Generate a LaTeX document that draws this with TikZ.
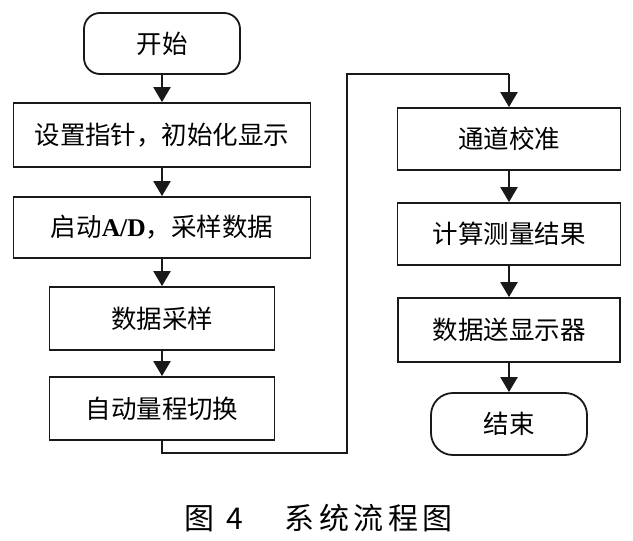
\documentclass[tikz,border=0pt]{standalone}
\usepackage{fontspec}
\setmainfont{Noto Sans CJK SC}
\newfontfamily\latinserif{Liberation Serif}
\usetikzlibrary{arrows.meta,positioning}
\tikzset{
  proc/.style={draw=black!90, line width=1.8pt, minimum height=62pt, inner sep=0pt, font=\fontsize{25.5}{29}\selectfont, text=black},
  term/.style={proc, rounded corners=16pt},
  flow/.style={draw=black!90, line width=2.2pt, -{Triangle[width=17pt,length=15pt]}},
  wire/.style={draw=black!90, line width=2.2pt}
}
\begin{document}
\begin{tikzpicture}[x=1pt,y=-1pt]
\useasboundingbox[fill=white] (0,0) rectangle (633,541);
\node[term, minimum width=156pt, minimum height=61pt] (start) at (162,43.5) {开始};
\node[proc, minimum width=297pt, minimum height=64pt] (b1) at (162,135) {设置指针，初始化显示};
\node[proc, minimum width=297pt, minimum height=61pt] (b2) at (162,227.5) {启动{\latinserif\bfseries A/D}，采样数据};
\node[proc, minimum width=225pt, minimum height=63pt] (b3) at (162,318.5) {数据采样};
\node[proc, minimum width=225pt, minimum height=63pt] (b4) at (162,408.5) {自动量程切换};
\node[proc, minimum width=223pt, minimum height=62pt] (r1) at (509,139) {通道校准};
\node[proc, minimum width=223pt, minimum height=62pt] (r2) at (509,234) {计算测量结果};
\node[proc, minimum width=222pt, minimum height=64pt] (r3) at (509,330) {数据送显示器};
\node[term, minimum width=156pt, minimum height=62pt, rounded corners=22pt] (end) at (509,424) {结束};
\coordinate (c0) at (162,453);
\coordinate (c1) at (347,453);
\coordinate (c2) at (347,74);
\coordinate (c3) at (509,74);
\draw[flow] (start) -- (b1);
\draw[flow] (b1) -- (b2);
\draw[flow] (b2) -- (b3);
\draw[flow] (b3) -- (b4);
\draw[wire] (b4.south) -- (c0) -- (c1) -- (c2) -- (c3);
\draw[flow] (c3) -- (r1.north);
\draw[flow] (r1) -- (r2);
\draw[flow] (r2) -- (r3);
\draw[flow] (r3) -- (end);
\node[font=\fontsize{30}{34}\selectfont, inner sep=0pt] (cap) at (318.5,518) {图\hspace{12pt}4\hspace{42pt}系\hspace{4.5pt}统\hspace{4.5pt}流\hspace{4.5pt}程\hspace{4.5pt}图};
\end{tikzpicture}
\end{document}
